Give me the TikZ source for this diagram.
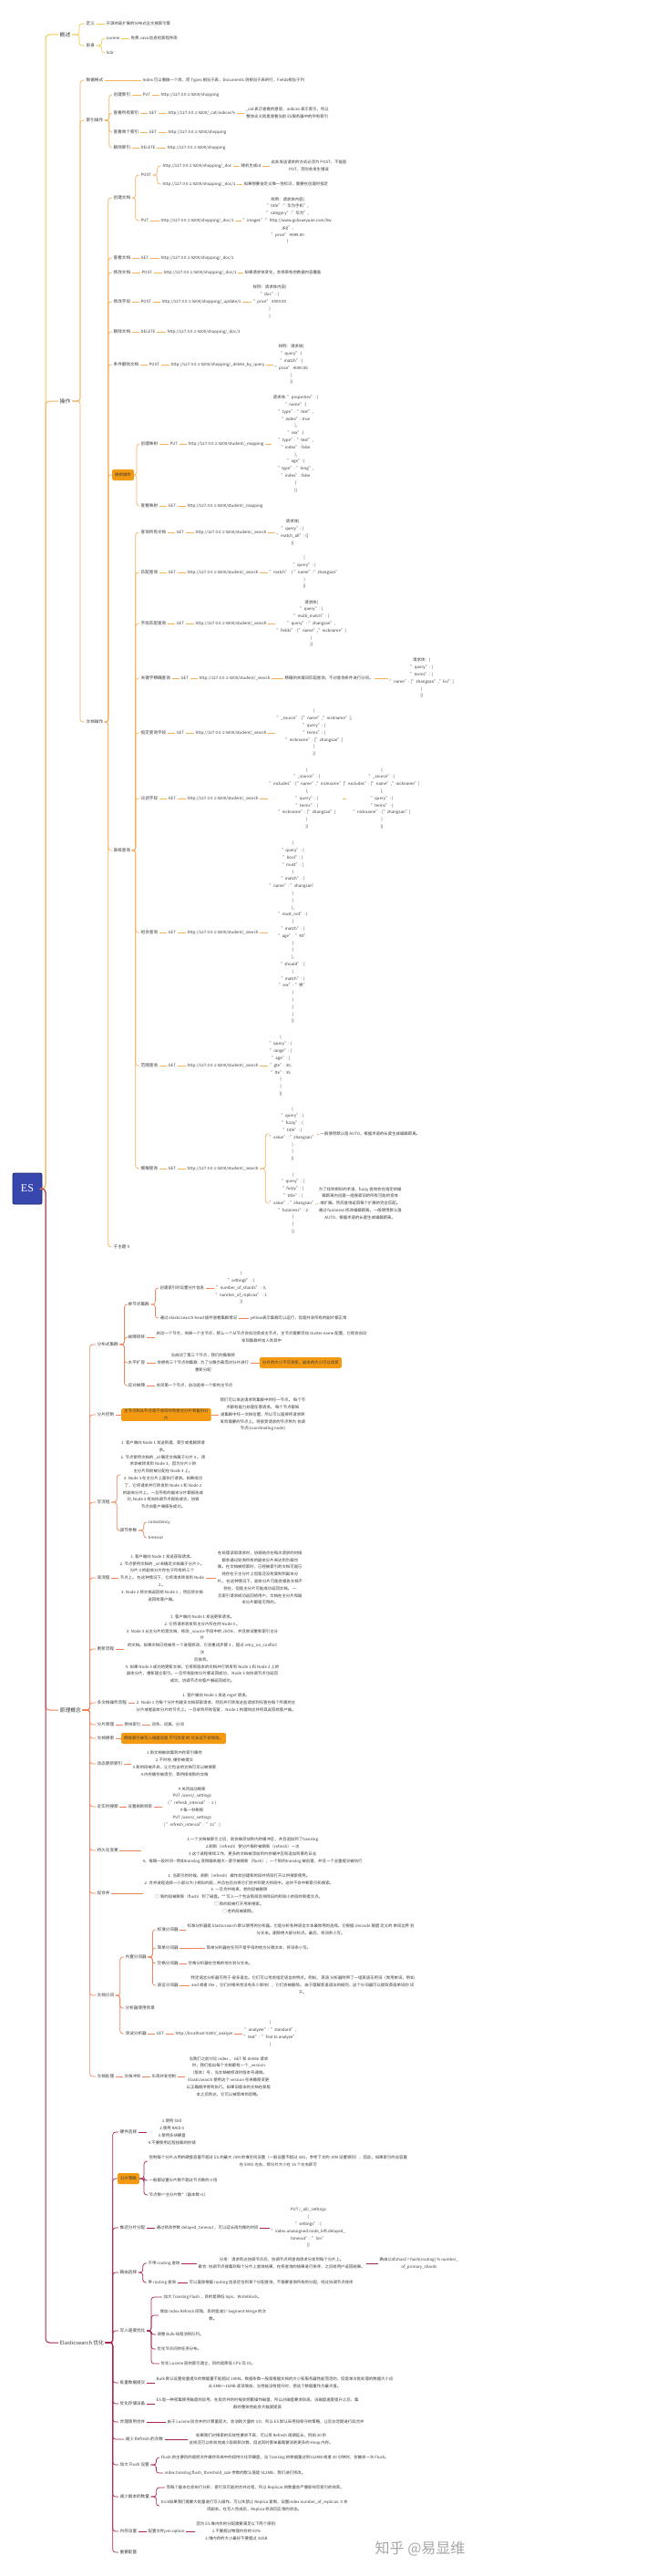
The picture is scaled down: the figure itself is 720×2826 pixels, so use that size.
\documentclass[tikz,border=0pt]{standalone}
\usepackage{fontspec}
\setmainfont{Noto Sans CJK SC}
\newfontfamily\esfont{Liberation Serif}
\definecolor{cyel}{HTML}{F2C94C}
\definecolor{cora}{HTML}{F6B15E}
\definecolor{ccor}{HTML}{EC8459}
\definecolor{ccrm}{HTML}{A82452}
\definecolor{cblue}{HTML}{3747AE}
\definecolor{cnavy}{HTML}{1E2762}
\definecolor{hlor}{HTML}{F39A12}
\definecolor{txt}{HTML}{3A3A3A}
\begin{document}
\begin{tikzpicture}[x=1pt,y=-1pt,
	every node/.style={inner xsep=1.5pt,inner ysep=1pt,text=txt},
	lvone/.style={anchor=west,font=\fontsize{5.8}{7}\selectfont},
	tp/.style={anchor=west,font=\fontsize{4.6}{7.8}\selectfont},
	nt/.style={anchor=west,align=center,font=\fontsize{4.4}{7.8}\selectfont},
	hl/.style={nt,fill=hlor,rounded corners=1.5pt,inner xsep=3pt,minimum height=12pt},
	trunk/.style={line width=1pt,rounded corners=4pt},
	lyel/.style={draw=cyel,line width=0.7pt,rounded corners=3pt},
	lora/.style={draw=cora,line width=0.7pt,rounded corners=3pt},
	lcor/.style={draw=ccor,line width=0.7pt,rounded corners=3pt},
	lcrm/.style={draw=ccrm,line width=0.7pt,rounded corners=3pt}]
		\fill [white] (0,0) rectangle (720,2826);
		\useasboundingbox (0,0) rectangle (720,2826);
		\node [draw=cnavy,fill=cblue,line width=0.8pt,rounded corners=2pt,minimum width=32pt,minimum height=34pt,font=\esfont\fontsize{12}{12}\selectfont,text=white] (es) at (30,1304) {ES};
		\coordinate (tk) at (50,1304);
		\node [lvone] (gs) at (64,38) {概述};
		\node [lvone] (cz) at (64,440) {操作};
		\node [lvone] (yl) at (64,1876) {原理概念};
		\node [lvone] (yh) at (64,2570) {Elasticsearch 优化};
		\draw [draw=cyel,trunk] (es.east) -- (tk) |- (gs.west);
		\draw [draw=cora,trunk] (es.east) -- (tk) |- (cz.west);
		\draw [draw=ccor,trunk] (es.east) -- (tk) |- (yl.west);
		\draw [draw=ccrm,trunk] (es.east) -- (tk) |- (yh.west);
		\node [tp] (dy) at (93,26) {定义};
		\node [tp] (qs) at (93,50) {前身};
		\node [nt] (dynt) at (115,26) {开源的高扩展的分布式全文搜索引擎};
		\node [nt] (luc) at (115,42) {Lucene};
		\node [nt] (solr) at (115,58) {Solr};
		\node [nt] (lucnt) at (142,42) {免费 Java 信息检索程序库};
		\foreach \c in {dy,qs} \draw [lyel] (gs.east) -- ++(8,0) |- (\c.west);
		\foreach \c in {luc,solr} \draw [lyel] (qs.east) -- ++(6,0) |- (\c.west);
		\foreach \a/\b in {dy/dynt,luc/lucnt} \draw [lyel] (\a.east) -- (\b.west);
		\node [tp] (sjgs) at (93,88) {数据格式};
		\node [nt] (sjgsnt) at (155,88) {Index 可以看做一个库，而 Types 相当于表，Documents 则相当于表的行，Fields相当于列};
		\node [tp] (syc) at (93,132) {索引操作};
		\node [tp] (wdcz) at (93,792) {文档操作};
		\node [tp] (cjsy) at (123,104) {创建索引};
		\node [nt] (cjsym) at (155,104) {PUT};
		\node [nt] (cjsyu) at (175,104) {http://127.0.0.1:9200/shopping};
		\node [tp] (cksy) at (123,124) {查看所有索引};
		\node [nt] (cksym) at (162,124) {GET};
		\node [nt] (cksyu) at (183,124) {http://127.0.0.1:9200/\_cat/indices?v};
		\node [nt] (cksynt) at (268,124) {\_cat 表示查看的意思，indices 表示索引，所以\\整体含义就是查看当前 ES服务器中的所有索引};
		\node [tp] (ckdg) at (123,145) {查看单个索引};
		\node [nt] (ckdgm) at (162,145) {GET};
		\node [nt] (ckdgu) at (183,145) {http://127.0.0.1:9200/shopping};
		\node [tp] (scsy) at (123,162) {删除索引};
		\node [nt] (scsym) at (153,162) {DELETE};
		\node [nt] (scsyu) at (182,162) {http://127.0.0.1:9200/shopping};
		\node [tp] (cjwd) at (123,217) {创建文档};
		\node [nt] (cjpost) at (153,192) {POST};
		\node [nt] (cjput) at (153,242) {PUT};
		\node [nt] (cju1) at (177,182) {http://127.0.0.1:9200/shopping/\_doc};
		\node [nt] (cjid) at (263,182) {随机生成id};
		\node [nt] (cjnt1) at (296,182) {此处发送请求的方式必须为 POST，不能是\\PUT，否则会发生错误};
		\node [nt] (cju2) at (177,202) {http://127.0.0.1:9200/shopping/\_doc/1};
		\node [nt] (cjnt2) at (266,202) {如果想要自定义唯一性标识，需要在创建时指定};
		\node [nt] (cju3) at (175,242) {http://127.0.0.1:9200/shopping/\_doc/1};
		\node [nt] (cjbd) at (265,242) {样例：请求体内容\{\\"title":"华为手机",\\"category":"华为",\\"images":"http://www.gulixueyuan.com/hw.\\jpg",\\"price":4999.00\\\}};
		\node [tp] (ckwd) at (123,283) {查看文档};
		\node [nt] (ckwdm) at (153,283) {GET};
		\node [nt] (ckwdu) at (175,283) {http://127.0.0.1:9200/shopping/\_doc/1};
		\node [tp] (xgwd) at (123,299) {修改文档};
		\node [nt] (xgwdm) at (154,299) {POST};
		\node [nt] (xgwdu) at (178,299) {http://127.0.0.1:9200/shopping/\_doc/1};
		\node [nt] (xgwdnt) at (267,299) {如果请求体变化，会将原有的数据内容覆盖};
		\node [tp] (xgzd) at (123,331) {修改字段};
		\node [nt] (xgzdm) at (153,331) {POST};
		\node [nt] (xgzdu) at (176,331) {http://127.0.0.1:9200/shopping/\_update/1};
		\node [nt] (xgzdbd) at (276,331) {样例：请求体内容\{\\"doc": \{\\"price":3000.00\\\}\\\}};
		\node [tp] (scwd) at (123,364) {删除文档};
		\node [nt] (scwdm) at (153,364) {DELETE};
		\node [nt] (scwdu) at (182,364) {http://127.0.0.1:9200/shopping/\_doc/1};
		\node [tp] (tjsc) at (123,400) {条件删除文档};
		\node [nt] (tjscm) at (162,400) {POST};
		\node [nt] (tjscu) at (186,400) {http://127.0.0.1:9200/shopping/\_delete\_by\_query};
		\node [nt] (tjscbd) at (300,400) {样例：请求体\{\\"query":\{\\"match":\{\\"price":4000.00\\\}\\\}\}};
		\node [hl] (ysc) at (123,521) {映射操作};
		\node [tp] (cjys) at (153,487) {创建映射};
		\node [nt] (cjysm) at (185,487) {PUT};
		\node [nt] (cjysu) at (205,487) {http://127.0.0.1:9200/student/\_mapping};
		\node [nt] (cjysbd) at (298,487) {请求体: "properties": \{\\"name":\{\\"type": "text",\\"index": true\\\},\\"sex":\{\\"type": "text",\\"index": false\\\},\\"age":\{\\"type": "long",\\"index": false\\\}\\\}\}};
		\node [tp] (ckys) at (153,555) {查看映射};
		\node [nt] (ckysm) at (183,555) {GET};
		\node [nt] (ckysu) at (204,555) {http://127.0.0.1:9200/student/\_mapping};
		\node [tp] (gjcx) at (123,933) {高级查询};
		\node [tp] (cxsy) at (153,584) {查询所有文档};
		\node [nt] (cxsym) at (192,584) {GET};
		\node [nt] (cxsyu) at (213,584) {http://127.0.0.1:9200/student/\_search};
		\node [nt] (cxsybd) at (302,584) {请求体\{\\"query": \{\\"match\_all": \{\}\\\}\}};
		\node [tp] (ppcx) at (153,628) {匹配查询};
		\node [nt] (ppcxm) at (183,628) {GET};
		\node [nt] (ppcxu) at (204,628) {http://127.0.0.1:9200/student/\_search};
		\node [nt] (ppcxbd) at (294,628) {\{\\"query": \{\\"match": \{ "name":"zhangsan"\\\}\\\}\}};
		\node [tp] (zdpp) at (153,684) {字段匹配查询};
		\node [nt] (zdppm) at (192,684) {GET};
		\node [nt] (zdppu) at (213,684) {http://127.0.0.1:9200/student/\_search};
		\node [nt] (zdppbd) at (302,684) {请求体\{\\"query": \{\\"multi\_match": \{\\"query": "zhangsan",\\"fields": ["name","nickname"]\\\}\\\}\}};
		\node [tp] (gjz) at (153,744) {关键字精确查询};
		\node [nt] (gjzm) at (197,744) {GET};
		\node [nt] (gjzu) at (217,744) {http://127.0.0.1:9200/student/\_search};
		\node [nt] (gjznt) at (311,744) {精确的关键词匹配查询，不对查询条件进行分词。};
		\node [nt] (gjzbd) at (426,744) {请求体：\{\\"query": \{\\"terms": \{\\"name": ["zhangsan","lisi"]\\\}\\\}\}};
		\node [tp] (zdcx) at (153,804) {指定查询字段};
		\node [nt] (zdcxm) at (192,804) {GET};
		\node [nt] (zdcxu) at (213,804) {http://127.0.0.1:9200/student/\_search};
		\node [nt] (zdcxbd) at (302,804) {\{\\"\_source": ["name","nickname"],\\"query": \{\\"terms": \{\\"nickname": ["zhangsan"]\\\}\\\}\}};
		\node [tp] (glzd) at (153,876) {过滤字段};
		\node [nt] (glzdm) at (183,876) {GET};
		\node [nt] (glzdu) at (204,876) {http://127.0.0.1:9200/student/\_search};
		\node [nt] (glzdbd1) at (294,876) {\{\\"\_source": \{\\"includes": ["name","nickname"]\\\},\\"query": \{\\"terms": \{\\"nickname": ["zhangsan"]\\\}\\\}\}};
		\node [nt] (glzdbd2) at (376,876) {\{\\"\_source": \{\\"excludes": ["name","nickname"]\\\},\\"query": \{\\"terms": \{\\"nickname": ["zhangsan"]\\\}\\\}\}};
		\node [tp] (zhcx) at (153,1023) {组合查询};
		\node [nt] (zhcxm) at (183,1023) {GET};
		\node [nt] (zhcxu) at (204,1023) {http://127.0.0.1:9200/student/\_search};
		\node [nt] (zhcxbd) at (294,1023) {\{\\"query": \{\\"bool": \{\\"must": [\\\{\\"match": \{\\"name": "zhangsan"\\\}\\\}\\],\\"must\_not": [\\\{\\"match": \{\\"age": "40"\\\}\\\}\\],\\"should": [\\\{\\"match": \{\\"sex": "男"\\\}\\\}\\]\\\}\\\}\}};
		\node [tp] (fwcx) at (153,1169) {范围查询};
		\node [nt] (fwcxm) at (183,1169) {GET};
		\node [nt] (fwcxu) at (204,1169) {http://127.0.0.1:9200/student/\_search};
		\node [nt] (fwcxbd) at (294,1169) {\{\\"query": \{\\"range": \{\\"age": \{\\"gte": 30,\\"lte": 35\\\}\\\}\\\}\}};
		\node [tp] (mhcx) at (153,1282) {模糊查询};
		\node [nt] (mhcxm) at (183,1282) {GET};
		\node [nt] (mhcxu) at (204,1282) {http://127.0.0.1:9200/student/\_search};
		\node [nt] (mhbd1) at (294,1244) {\{\\"query": \{\\"fuzzy": \{\\"title": \{\\"value": "zhangsan"\\\}\\\}\\\}\}};
		\node [nt] (mhnt1) at (350,1244) {一般使用默认值 AUTO，根据术语的长度生成编辑距离。};
		\node [nt] (mhbd2) at (294,1320) {\{\\"query": \{\\"fuzzy": \{\\"title": \{\\"value": "zhangsan",\\"fuzziness": 2\\\}\\\}\\\}\}};
		\node [nt] (mhnt2) at (348,1320) {为了找到相似的术语，fuzzy 查询会在指定的编\\辑距离内创建一组搜索词的所有可能的变体\\或扩展。然后查询返回每个扩展的完全匹配。\\通过 fuzziness 修改编辑距离。一般使用默认值\\AUTO，根据术语的长度生成编辑距离。};
		\node [tp] (zzt) at (123,1368) {子主题 9};
		\foreach \c in {sjgs,syc,wdcz} \draw [lora] (cz.east) -- ++(9,0) |- (\c.west);
		\foreach \c in {cjsy,cksy,ckdg,scsy} \draw [lora] (syc.east) -- ++(5,0) |- (\c.west);
		\foreach \c in {cjwd,ckwd,xgwd,xgzd,scwd,tjsc,ysc,gjcx,zzt} \draw [lora] (wdcz.east) -- ++(4,0) |- (\c.west);
		\foreach \c in {cjpost,cjput} \draw [lora] (cjwd.east) -- ++(4,0) |- (\c.west);
		\foreach \c in {cju1,cju2} \draw [lora] (cjpost.east) -- ++(5,0) |- (\c.west);
		\foreach \c in {cjys,ckys} \draw [lora] (ysc.east) -- ++(3,0) |- (\c.west);
		\foreach \c in {cxsy,ppcx,zdpp,gjz,zdcx,glzd,zhcx,fwcx,mhcx} \draw [lora] (gjcx.east) -- ++(4,0) |- (\c.west);
		\foreach \c in {mhbd1,mhbd2} \draw [lora] (mhcxu.east) -- ++(6,0) |- (\c.west);
		\foreach \a/\b in {sjgs/sjgsnt,cjsy/cjsym,cjsym/cjsyu,cksy/cksym,cksym/cksyu,cksyu/cksynt,ckdg/ckdgm,ckdgm/ckdgu,scsy/scsym,scsym/scsyu,
			cju1/cjid,cjid/cjnt1,cju2/cjnt2,cjput/cju3,cju3/cjbd,ckwd/ckwdm,ckwdm/ckwdu,xgwd/xgwdm,xgwdm/xgwdu,xgwdu/xgwdnt,
			xgzd/xgzdm,xgzdm/xgzdu,xgzdu/xgzdbd,scwd/scwdm,scwdm/scwdu,tjsc/tjscm,tjscm/tjscu,tjscu/tjscbd,
			cjys/cjysm,cjysm/cjysu,cjysu/cjysbd,ckys/ckysm,ckysm/ckysu,cxsy/cxsym,cxsym/cxsyu,cxsyu/cxsybd,
			ppcx/ppcxm,ppcxm/ppcxu,ppcxu/ppcxbd,zdpp/zdppm,zdppm/zdppu,zdppu/zdppbd,gjz/gjzm,gjzm/gjzu,gjzu/gjznt,gjznt/gjzbd,
			zdcx/zdcxm,zdcxm/zdcxu,zdcxu/zdcxbd,glzd/glzdm,glzdm/glzdu,glzdu/glzdbd1,glzdbd1/glzdbd2,
			zhcx/zhcxm,zhcxm/zhcxu,zhcxu/zhcxbd,fwcx/fwcxm,fwcxm/fwcxu,fwcxu/fwcxbd,mhcx/mhcxm,mhcxm/mhcxu,mhbd1/mhnt1,mhbd2/mhnt2}
			\draw [lora] (\a.east) -- (\b.west);
		\node [tp] (fbs) at (105,1475) {分布式集群};
		\node [tp] (djd) at (139,1431) {单节点集群};
		\node [nt] (cjfp) at (174,1413) {创建索引时设置分片信息};
		\node [nt] (cjfpbd) at (235,1413) {\{\\"settings" : \{\\"number\_of\_shards" : 3,\\"number\_of\_replicas" : 1\\\}\}};
		\node [nt] (head) at (174,1446) {通过 elasticsearch-head 插件查看集群情况};
		\node [nt] (headnt) at (273,1446) {yellow表示集群可以运行，但是并非所有的副片都正常};
		\node [tp] (gzzy) at (139,1467) {故障转移};
		\node [nt] (gzzynt) at (170,1467) {启动一个节点，关掉一个主节点，那么一个从节点会自动变成主节点，主节点需要添加 cluster.name 配置，它就会自动\\发现集群并加入到其中};
		\node [tp] (spkr) at (139,1495) {水平扩容};
		\node [nt] (spkrnt) at (171,1495) {当启动了第三个节点，我们的集群将\\会拥有三个节点的集群 : 为了分散负载而对分片进行\\重新分配};
		\node [hl] (spkrhl) at (285,1495) {分片的大小不可改变，副本的大小可以改变};
		\node [tp] (ydgz) at (139,1520) {应对故障};
		\node [nt] (ydgznt) at (170,1520) {关闭第一个节点，自动选举一个新的主节点};
		\node [tp] (fpkz) at (105,1552) {分片控制};
		\node [hl] (fpkzhl) at (133,1552) {主节点和从节点是不会同时存放主分片和备份分\\片};
		\node [nt] (fpkznt) at (240,1552) {我们可以发送请求到集群中的任一节点。 每个节\\点都有能力处理任意请求。 每个节点都知\\道集群中任一文档位置，所以可以直接将请求转\\发到需要的节点上。将接受请求的节点称为 协调\\节点(coordinating node)};
		\node [tp] (xlc) at (105,1648) {写流程};
		\node [nt] (xlcnt) at (131,1618) {1. 客户端向 Node 1 发送新建、索引或者删除请\\求。\\2. 节点使用文档的 \_id 确定文档属于分片 0 。请\\求会被转发到 Node 3，因为分片 0 的\\主分片目前被分配在 Node 3 上。\\3. Node 3 在主分片上面执行请求。如果成功\\了，它将请求并行转发到 Node 1 和 Node 2\\的副本分片上。一旦所有的副本分片都报告成\\功, Node 3 将向协调节点报告成功，协调\\节点向客户端报告成功。};
		\node [tp] (tjcs) at (130,1679) {调节参数};
		\node [nt] (cons) at (161,1670) {consistency};
		\node [nt] (tout) at (161,1687) {timeout};
		\node [tp] (dlc) at (105,1731) {读流程};
		\node [nt] (dlcnt) at (130,1731) {1. 客户端向 Node 1 发送获取请求。\\2. 节点使用文档的 \_id 来确定文档属于分片 0 。\\分片 0 的副本分片存在于所有的三个\\节点上。 在这种情况下，它将请求转发到 Node\\2 。\\3. Node 2 将文档返回给 Node 1 ，然后将文档\\返回给客户端。};
		\node [nt] (dlcnt2) at (237,1731) {在处理读取请求时，协调结点在每次请求的时候\\都会通过轮询所有的副本分片来达到负载均\\衡。在文档被检索时，已经被索引的文档可能已\\经存在于主分片上但是还没有复制到副本分\\片。 在这种情况下，副本分片可能会报告文档不\\存在，但是主分片可能成功返回文档。 一\\旦索引请求成功返回给用户，文档在主分片和副\\本分片都是可用的。};
		\node [tp] (gxlc) at (105,1809) {更新流程};
		\node [nt] (gxlcnt) at (136,1809) {1. 客户端向 Node 1 发送更新请求。\\2. 它将请求转发到主分片所在的 Node 3 。\\3. Node 3 从主分片检索文档，修改 \_source 字段中的 JSON ，并且尝试重新索引主分\\片\\的文档。如果文档已经被另一个进程修改，它会重试步骤 3 ，超过 retry\_on\_conflict\\次\\后放弃。\\4. 如果 Node 3 成功地更新文档，它将新版本的文档并行转发到 Node 1 和 Node 2 上的\\副本分片，重新建立索引。一旦所有副本分片都返回成功， Node 3 向协调节点也返回\\成功，协调节点向客户端返回成功。};
		\node [tp] (dwd) at (105,1868) {多文档操作流程};
		\node [nt] (dwdnt) at (148,1868) {1. 客户端向 Node 1 发送 mget 请求。\\2. Node 1 为每个分片构建多文档获取请求，然后并行转发这些请求到托管在每个所需的主\\分片或者副本分片的节点上。一旦收到所有答复， Node 1 构建响应并将其返回给客户端。};
		\node [tp] (fpyl) at (105,1892) {分片原理};
		\node [nt] (dpsy) at (135,1892) {倒排索引};
		\node [nt] (dpsynt) at (165,1892) {词条、词典、分词};
		\node [tp] (wdss) at (105,1907) {文档搜索};
		\node [hl] (wdsshl) at (133,1907) {倒排索引被写入磁盘后是 不可改变 的:它永远不会修改。};
		\node [tp] (dtgx) at (105,1935) {动态更新索引};
		\node [nt] (dtgxnt) at (144,1935) {1.新文档被收集到内存索引缓存\\2.不时地, 缓存被提交\\3.新的段被开启，让它包含的文档可见以被搜索\\4.内存缓存被清空，等待接收新的文档};
		\node [tp] (sss) at (105,1982) {近实时搜索};
		\node [nt] (szsx) at (139,1982) {设置刷新频率};
		\node [nt] (szsxnt) at (178,1982) {\# 关闭自动刷新\\PUT /users/\_settings\\\{ "refresh\_interval": -1 \}\\\# 每一秒刷新\\PUT /users/\_settings\\\{ "refresh\_interval": "1s" \}};
		\node [tp] (cjh) at (105,2030) {持久化变更};
		\node [nt] (cjhnt) at (155,2030) {1.一个文档被索引之后，就会被添加到内存缓冲区，并且追加到了translog\\2.刷新（refresh）使分片每秒被刷新（refresh）一次\\3.这个进程继续工作，更多的文档被添加到内存缓冲区和追加到事务日志\\4、每隔一段时间—例如translog 变得越来越大—索引被刷新（flush）；一个新的translog 被创建，并且一个全量提交被执行};
		\node [tp] (dhb) at (105,2077) {段合并};
		\node [nt] (dhbnt) at (157,2077) {1. 当索引的时候，刷新（refresh）操作会创建新的段并将段打开以供搜索使用。\\2. 合并进程选择一小部分大小相似的段，并且在后台将它们合并到更大的段中。这并不会中断索引和搜索。\\3. 一旦合并结束，老的段被删除\\□ 新的段被刷新（flush）到了磁盘。** 写入一个包含新段且排除旧的和较小的段的新提交点。\\□ 新的段被打开用来搜索。\\□ 老的段被删除。};
		\node [tp] (wdfc) at (105,2189) {文档分词};
		\node [tp] (nzfc) at (136,2147) {内置分词器};
		\node [tp] (bzfc) at (171,2117) {标准分词器};
		\node [nt] (bzfcnt) at (204,2117) {标准分析器是 Elasticsearch 默认使用的分析器。它是分析各种语言文本最常用的选择。它根据 Unicode 联盟 定义的 单词边界 划\\分文本。删除绝大部分标点。最后，将词条小写。};
		\node [tp] (jdfc) at (171,2137) {简单分词器};
		\node [nt] (jdfcnt) at (225,2137) {简单分析器在任何不是字母的地方分隔文本，将词条小写。};
		\node [tp] (kgfc) at (171,2154) {空格分词器};
		\node [nt] (kgfcnt) at (205,2154) {空格分析器在空格的地方划分文本。};
		\node [tp] (yyfc) at (171,2178) {语言分词器};
		\node [nt] (yyfcnt) at (208,2178) {特定语言分析器可用于 很多语言。它们可以考虑指定语言的特点。例如， 英语 分析器附带了一组英语无用词（常用单词，例如\\and 或者 the ，它们对相关性没有多少影响），它们会被删除。 由于理解英语语法的规则，这个分词器可以提取英语单词的 词\\干。};
		\node [tp] (fxcj) at (136,2203) {分析器使用场景};
		\node [tp] (csfx) at (136,2231) {测试分析器};
		\node [nt] (csfxm) at (170,2231) {GET};
		\node [nt] (csfxu) at (191,2231) {http://localhost:9200/\_analyze};
		\node [nt] (csfxbd) at (266,2231) {\{\\"analyzer": "standard",\\"text": "Text to analyze"\\\}};
		\node [tp] (wdcl) at (105,2278) {文档处理};
		\node [nt] (wdct) at (135,2278) {文档冲突};
		\node [nt] (lgbf) at (165,2278) {乐观并发控制};
		\node [nt] (lgbfnt) at (203,2278) {当我们之前讨论 index ， GET 和 delete 请求\\时，我们指出每个文档都有一个 \_version\\（版本）号，当文档被修改时版本号递增。\\Elasticsearch 使用这个 version 号来确保变更\\以正确顺序得到执行。如果旧版本的文档在新版\\本之后到达，它可以被简单的忽略。};
		\foreach \c in {fbs,fpkz,xlc,dlc,gxlc,dwd,fpyl,wdss,dtgx,sss,cjh,dhb,wdfc,wdcl} \draw [lcor] (yl.east) -- ++(8,0) |- (\c.west);
		\foreach \c in {djd,gzzy,spkr,ydgz} \draw [lcor] (fbs.east) -- ++(5,0) |- (\c.west);
		\foreach \c in {cjfp,head} \draw [lcor] (djd.east) -- ++(5,0) |- (\c.west);
		\foreach \c in {xlcnt,tjcs} \draw [lcor] (xlc.east) -- ++(6,0) |- (\c.west);
		\foreach \c in {cons,tout} \draw [lcor] (tjcs.east) -- ++(6,0) |- (\c.west);
		\foreach \c in {nzfc,fxcj,csfx} \draw [lcor] (wdfc.east) -- ++(5,0) |- (\c.west);
		\foreach \c in {bzfc,jdfc,kgfc,yyfc} \draw [lcor] (nzfc.east) -- ++(5,0) |- (\c.west);
		\foreach \a/\b in {cjfp/cjfpbd,head/headnt,gzzy/gzzynt,spkr/spkrnt,spkrnt/spkrhl,ydgz/ydgznt,fpkz/fpkzhl,fpkzhl/fpkznt,
			dlc/dlcnt,dlcnt/dlcnt2,gxlc/gxlcnt,dwd/dwdnt,fpyl/dpsy,dpsy/dpsynt,wdss/wdsshl,dtgx/dtgxnt,sss/szsx,szsx/szsxnt,
			cjh/cjhnt,dhb/dhbnt,bzfc/bzfcnt,jdfc/jdfcnt,kgfc/kgfcnt,yyfc/yyfcnt,csfx/csfxm,csfxm/csfxu,csfxu/csfxbd,
			wdcl/wdct,wdct/lgbf,lgbf/lgbfnt}
			\draw [lcor] (\a.east) -- (\b.west);
		\node [tp] (yjxz) at (130,2339) {硬件选择};
		\node [nt] (yjxznt) at (161,2339) {1.使用 SSD\\2.使用 RAID 0\\3.使用多块硬盘\\4.不要使用远程挂载的存储};
		\node [hl] (fpcl) at (129,2390) {分片策略};
		\node [nt] (fpcl1) at (162,2371) {控制每个分片占用的硬盘容量不超过 ES 的最大 JVM 的堆空间设置（一般设置不超过 32G，参考下文的 JVM 设置原则），因此，如果索引的总容量\\在 500G 左右，那分片大小在 16 个左右即可};
		\node [nt] (fpcl2) at (162,2392) {一般都设置分片数不超过节点数的 3 倍};
		\node [nt] (fpcl3) at (162,2408) {节点数<=主分片数*（副本数+1）};
		\node [tp] (tcfp) at (130,2444) {推迟分片分配};
		\node [nt] (tcfpnt) at (170,2444) {通过修改参数 delayed\_timeout ，可以延长再均衡的时间};
		\node [nt] (tcfpbd) at (296,2444) {PUT /\_all/\_settings\\\{\\"settings": \{\\"index.unassigned.node\_left.delayed\_\\timeout": "5m"\\\}\}};
		\node [tp] (lyxz) at (130,2493) {路由选择};
		\node [nt] (bdr) at (161,2483) {不带 routing 查询};
		\node [nt] (bdrnt) at (216,2483) {分发：请求到达协调节点后，协调节点将查询请求分发到每个分片上。\\聚合: 协调节点搜集到每个分片上查询结果，在将查询的结果进行排序，之后给用户返回结果。};
		\node [nt] (bdrgs) at (415,2483) {路由公式shard = hash(routing) \% number\_\\of\_primary\_shards};
		\node [nt] (dr) at (161,2504) {带 routing 查询};
		\node [nt] (drnt) at (206,2504) {可以直接根据 routing 信息定位到某个分配查询，不需要查询所有的分配，经过协调节点排序};
		\node [tp] (xrsd) at (130,2557) {写入速度优化};
		\node [nt] (xr1) at (178,2520) {加大 Translog Flush ，目的是降低 Iops、Writeblock。};
		\node [nt] (xr2) at (174,2540) {增加 Index Refresh 间隔，目的是减少 Segment Merge 的次\\数。};
		\node [nt] (xr3) at (171,2561) {调整 Bulk 线程池和队列。};
		\node [nt] (xr4) at (171,2577) {优化节点间的任务分布。};
		\node [nt] (xr5) at (175,2593) {优化 Lucene 层的索引建立，目的是降低 CPU 及 IO。};
		\node [tp] (plsj) at (130,2614) {批量数据提交};
		\node [nt] (plsjnt) at (170,2614) {Bulk 默认设置批量提交的数据量不能超过 100M。数据条数一般是根据文档的大小和服务器性能而定的，但是单次批处理的数据大小应\\从 5MB～15MB 逐渐增加，当性能没有提升时，把这个数据量作为最大值。};
		\node [tp] (yhcc) at (130,2637) {优化存储设备};
		\node [nt] (yhccnt) at (170,2637) {ES 是一种密集使用磁盘的应用，在段合并的时候会频繁操作磁盘，所以对磁盘要求较高，当磁盘速度提升之后，集\\群的整体性能会大幅度提高};
		\node [tp] (hlhb) at (130,2657) {合理使用合并};
		\node [nt] (hlhbnt) at (182,2657) {由于 Lucene 段合并的计算量庞大，会消耗大量的 I/O，所以 ES 默认采用较保守的策略，让后台定期进行段合并};
		\node [tp] (jsrf) at (136,2676) {减少 Refresh 的次数};
		\node [nt] (jsrfnt) at (206,2676) {如果我们对搜索的实效性要求不高，可以将 Refresh 周期延长，例如 30 秒\\这样还可以有效地减少段刷新次数，但这同时意味着需要消耗更多的 Heap 内存。};
		\node [tp] (dfl) at (130,2704) {加大 Flush 设置};
		\node [nt] (dfl1) at (175,2696) {Flush 的主要目的是把文件缓存系统中的段持久化到硬盘，当 Translog 的数据量达到512MB 或者 30 分钟时，会触发一次 Flush。};
		\node [nt] (dfl2) at (179,2713) {index.translog.flush\_threshold\_size 参数的默认值是 512MB，我们进行修改。};
		\node [tp] (jsfb) at (130,2739) {减少副本的数量};
		\node [nt] (jsfb1) at (181,2729) {而每个副本也会执行分析、索引及可能的合并过程，所以 Replicas 的数量会严重影响写索引的效率。};
		\node [nt] (jsfb2) at (175,2749) {trick如果我们需要大批量进行写入操作，可以先禁止 Replica 复制，设置index.number\_of\_replicas: 0 关\\闭副本。在写入完成后，Replica 修改回正常的状态。};
		\node [tp] (ncsz) at (130,2777) {内存设置};
		\node [nt] (pzwj) at (161,2777) {配置文件jvm.option};
		\node [nt] (pzwjnt) at (214,2777) {因为 ES 堆内存的分配需要满足以下两个原则:\\1.不要超过物理内存的 50\%\\2.堆内存的大小最好不要超过 32GB};
		\node [tp] (zypz) at (130,2800) {重要配置};
		\foreach \c in {yjxz,fpcl,tcfp,lyxz,xrsd,plsj,yhcc,hlhb,jsrf,dfl,jsfb,ncsz,zypz} \draw [lcrm] (yh.east) -- ++(8,0) |- (\c.west);
		\foreach \c in {fpcl1,fpcl2,fpcl3} \draw [lcrm] (fpcl.east) -- ++(5,0) |- (\c.west);
		\foreach \c in {bdr,dr} \draw [lcrm] (lyxz.east) -- ++(5,0) |- (\c.west);
		\foreach \c in {xr1,xr2,xr3,xr4,xr5} \draw [lcrm] (xrsd.east) -- ++(5,0) |- (\c.west);
		\foreach \c in {dfl1,dfl2} \draw [lcrm] (dfl.east) -- ++(6,0) |- (\c.west);
		\foreach \c in {jsfb1,jsfb2} \draw [lcrm] (jsfb.east) -- ++(6,0) |- (\c.west);
		\foreach \a/\b in {yjxz/yjxznt,tcfp/tcfpnt,tcfpnt/tcfpbd,bdr/bdrnt,bdrnt/bdrgs,dr/drnt,plsj/plsjnt,yhcc/yhccnt,hlhb/hlhbnt,
			jsrf/jsrfnt,ncsz/pzwj,pzwj/pzwjnt}
			\draw [lcrm] (\a.east) -- (\b.west);
		\node [anchor=west,text=black!35,font=\fontsize{16}{16}\selectfont] (sy) at (410,2796) {知乎 @易显维};
\end{tikzpicture}
\end{document}
